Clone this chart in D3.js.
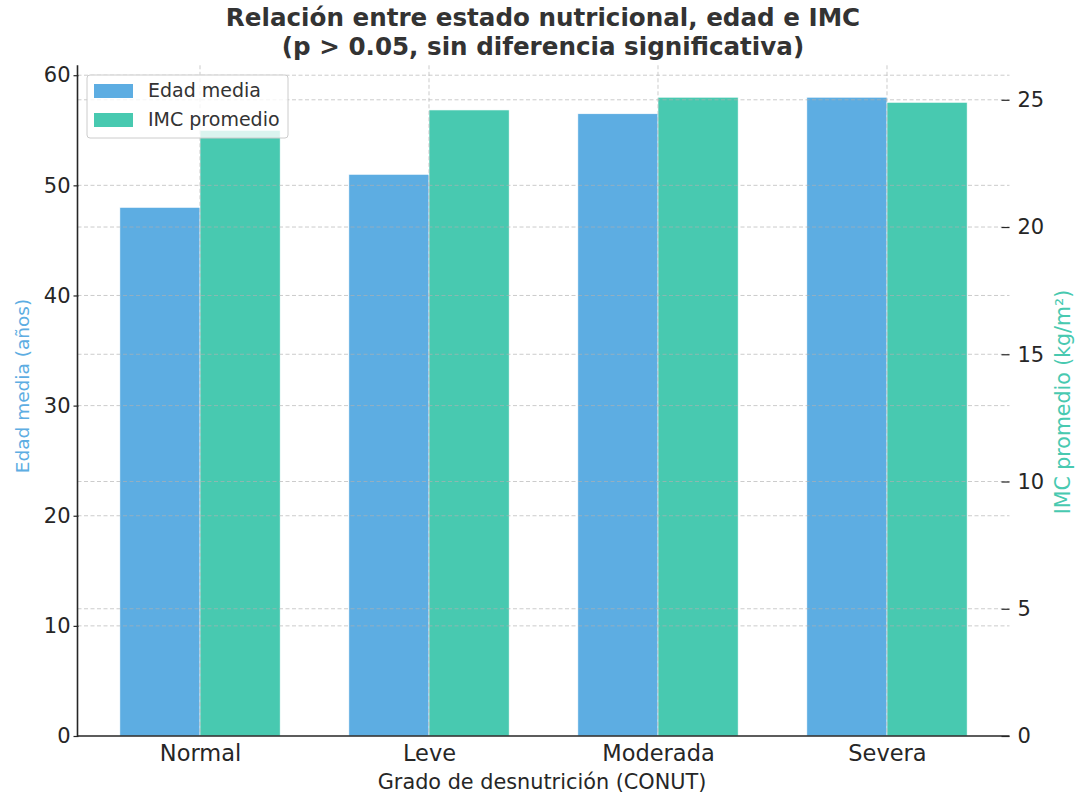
<!DOCTYPE html>
<html><head><meta charset="utf-8">
<script src="https://cdn.jsdelivr.net/npm/d3@7"></script>
<style>body{margin:0;background:#fff}svg{display:block}text{font-family:"DejaVu Sans",sans-serif}</style>
</head><body>
<script>
const categories = ["Normal", "Leve", "Moderada", "Severa"];
const edadMedia = [48.0, 51.0, 56.5, 58.0];
const imcPromedio = [23.8, 24.6, 25.1, 24.9];
const leftTicks = [0, 10, 20, 30, 40, 50, 60];
const rightTicks = [0, 5, 10, 15, 20, 25];
const seriesNames = ["Edad media", "IMC promedio"];
const colors = ["#5DADE2", "#48C9B0"];

const W = 1076, H = 794;
const m = {left: 77.5, right: 1009.5, top: 65.3, bottom: 736};
const svg = d3.select("body").append("svg").attr("width", W).attr("height", H);

const barW = 0.35;
const x = d3.scaleLinear().domain([-0.535, categories.length - 1 + 0.535]).range([m.left, m.right]);
const yL = d3.scaleLinear().domain([0, d3.max(edadMedia) * 1.05]).range([m.bottom, m.top]);
const yR = d3.scaleLinear().domain([0, d3.max(imcPromedio) * 1.05]).range([m.bottom, m.top]);

// bars
svg.append("g").selectAll("rect").data(edadMedia).join("rect")
  .attr("x", (d, i) => x(i - barW)).attr("width", x(barW) - x(0))
  .attr("y", d => yL(d)).attr("height", d => yL(0) - yL(d))
  .attr("fill", colors[0]).attr("stroke", "#fff").attr("stroke-width", 0.6);
svg.append("g").selectAll("rect").data(imcPromedio).join("rect")
  .attr("x", (d, i) => x(i)).attr("width", x(barW) - x(0))
  .attr("y", d => yR(d)).attr("height", d => yR(0) - yR(d))
  .attr("fill", colors[1]).attr("stroke", "#fff").attr("stroke-width", 0.6);

// grid
const grid = svg.append("g").attr("stroke", "#b0b0b0").attr("stroke-opacity", 0.65)
  .attr("stroke-dasharray", "4,2.5").attr("stroke-width", 1);
grid.selectAll(".gl").data(leftTicks.filter(t => t > 0)).join("line").attr("class", "gl")
  .attr("x1", m.left).attr("x2", m.right).attr("y1", d => yL(d)).attr("y2", d => yL(d));
grid.selectAll(".gr").data(rightTicks.filter(t => t > 0)).join("line").attr("class", "gr")
  .attr("x1", m.left).attr("x2", m.right).attr("y1", d => yR(d)).attr("y2", d => yR(d));
grid.selectAll(".gx").data(categories).join("line").attr("class", "gx")
  .attr("x1", (d, i) => x(i)).attr("x2", (d, i) => x(i)).attr("y1", m.top).attr("y2", m.bottom);

// axes
const axL = svg.append("g").attr("transform", `translate(${m.left},0)`)
  .call(d3.axisLeft(yL).tickValues(leftTicks).tickSize(4).tickPadding(4));
const axR = svg.append("g").attr("transform", `translate(${m.right},0)`)
  .call(d3.axisRight(yR).tickValues(rightTicks).tickSize(4).tickPadding(4));
const axB = svg.append("g").attr("transform", `translate(0,${m.bottom})`)
  .call(d3.axisBottom(x).tickValues(d3.range(categories.length)).tickFormat(i => categories[i]).tickSize(4).tickPadding(6));
[axL, axR].forEach(a => {
  a.selectAll("text").attr("font-size", 21).attr("fill", "#262626").attr("font-family", "DejaVu Sans");
  a.selectAll(".tick line").attr("stroke", "#262626").attr("stroke-width", 1.2);
});
axB.selectAll("text").attr("font-size", 22.5).attr("fill", "#262626").attr("font-family", "DejaVu Sans").attr("y", 9);
axL.select(".domain").attr("stroke", "#262626").attr("stroke-width", 1.6).attr("d", `M0,${m.top}V${m.bottom}`);
axR.select(".domain").remove();
axB.select(".domain").attr("stroke", "#262626").attr("stroke-width", 1.6).attr("d", `M${m.left},0H${m.right}`);
axR.selectAll(".tick line").attr("x1", -8).attr("x2", 0);
axR.selectAll(".tick text").attr("x", 8);
axL.selectAll(".tick line").attr("x1", -4).attr("x2", 1);
axL.selectAll(".tick text").attr("x", -7);
axB.selectAll(".tick line").remove();

// labels
svg.append("text").attr("x", 542).attr("y", 789).attr("text-anchor", "middle")
  .attr("font-size", 20.8).attr("fill", "#262626").text("Grado de desnutrición (CONUT)");
svg.append("text").attr("transform", `translate(29,386) rotate(-90)`).attr("text-anchor", "middle")
  .attr("font-size", 18.5).attr("fill", colors[0]).text("Edad media (años)");
svg.append("text").attr("transform", `translate(1070,402) rotate(-90)`).attr("text-anchor", "middle")
  .attr("font-size", 20.5).attr("fill", colors[1]).text("IMC promedio (kg/m²)");

// title (two separate lines)
const titleLines = ["Relación entre estado nutricional, edad e IMC", "(p > 0.05, sin diferencia significativa)"];
titleLines.forEach((t, i) => {
  svg.append("text").attr("x", 543).attr("y", 25.5 + i * 29).attr("text-anchor", "middle")
    .attr("font-size", 24.6).attr("font-weight", "bold").attr("fill", "#333").text(t);
});

// legend
const lg = svg.append("g").attr("transform", "translate(87,75)");
lg.append("rect").attr("width", 201).attr("height", 63).attr("rx", 3).attr("fill", "#fff").attr("fill-opacity", 0.8)
  .attr("stroke", "#cccccc").attr("stroke-width", 1);
seriesNames.forEach((n, i) => {
  lg.append("rect").attr("x", 7).attr("y", 9 + i * 29).attr("width", 39).attr("height", 14).attr("fill", colors[i]);
  lg.append("text").attr("x", 61).attr("y", 22.3 + i * 28.7).attr("font-size", 19).attr("fill", "#333").text(n);
});
</script>
</body></html>
